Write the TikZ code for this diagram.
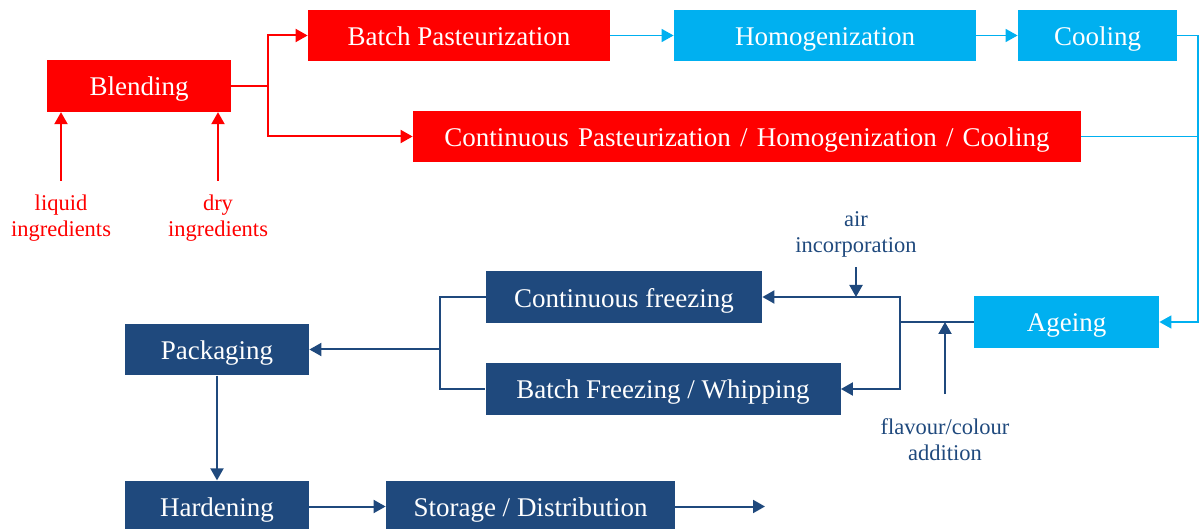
\documentclass[tikz,border=0pt]{standalone}
\usepackage{fontspec}
\setmainfont{Liberation Serif}
\newfontfamily\stagefont{Liberation Serif}
\usepackage{xcolor}
\usetikzlibrary{arrows.meta, positioning, calc}
\definecolor{mixred}{HTML}{FF0000}
\definecolor{heatblue}{HTML}{00B0F0}
\definecolor{freezeblue}{HTML}{1F497D}

\begin{document}
\begin{tikzpicture}[x=0.5pt, y=-0.5pt, >={Triangle[length=6pt, width=6.5pt]},
  stagebox/.style={inner sep=0pt, minimum height=25.75pt, text height=10pt, text depth=0pt, text=white, font=\stagefont\fontsize{13.5}{16}\selectfont},
  redbox/.style={stagebox, fill=mixred},
  cyanbox/.style={stagebox, fill=heatblue},
  bluebox/.style={stagebox, fill=freezeblue},
  inlabel/.style={inner sep=0pt, align=center, font=\stagefont\fontsize{11.25}{13}\selectfont},
  redline/.style={draw=mixred, line width=1pt},
  cyanline/.style={draw=heatblue, line width=0.8pt},
  blueline/.style={draw=freezeblue, line width=1pt}]
\useasboundingbox (0,0) rectangle (1200,529);

\node[redbox, minimum width=92pt] (blend) at (139,86) {Blending};
\node[redbox, minimum width=151pt] (batchpast) at (459,35.5) {Batch Pasteurization};
\node[redbox, minimum width=334pt] (contpast) at (747,136.5) {Continuous\hspace{0.34em}Pasteurization\hspace{0.34em}/\hspace{0.34em}Homogenization\hspace{0.34em}/\hspace{0.34em}Cooling};
\node[cyanbox, minimum width=151pt] (homog) at (825,35.5) {Homogenization};
\node[cyanbox, minimum width=79.5pt] (cool) at (1097.5,35.5) {Cooling};
\node[cyanbox, minimum width=92.5pt] (ageing) at (1066.5,322) {Ageing};
\node[bluebox, minimum width=138pt] (contfreeze) at (624,297) {Continuous freezing};
\node[bluebox, minimum width=177.5pt] (batchfreeze) at (663,389) {Batch Freezing / Whipping};
\node[bluebox, minimum width=92pt] (packaging) at (217,349.5) {Packaging};
\node[bluebox, minimum width=92pt] (hardening) at (217,506.5) {Hardening};
\node[bluebox, minimum width=144.5pt] (storage) at (530.5,506.5) {Storage / Distribution};

\node[inlabel, text=mixred] (liquid) at (61,218.5) {liquid\\ingredients};
\node[inlabel, text=mixred] (dry) at (218,218.5) {dry\\ingredients};
\node[inlabel, text=freezeblue] (air) at (856,234) {air\\incorporation};
\node[inlabel, text=freezeblue] (flavour) at (945,439.5) {flavour/colour\\addition};

\coordinate (split) at (268,86);
\coordinate (cjoin) at (1198,136.5);
\coordinate (fjoin) at (900,322);
\coordinate (pjoin) at (440,349.5);
\coordinate (out) at (765,506.5);

\draw[redline, ->] (blend.east) -- (split) |- (batchpast.west);
\draw[redline, ->] (split) |- (contpast.west);
\draw[redline, ->] ([yshift=7pt]liquid.north) -- (liquid.north |- blend.south);
\draw[redline, ->] ([yshift=7pt]dry.north) -- (dry.north |- blend.south);

\draw[cyanline, ->] (batchpast) -- (homog);
\draw[cyanline, ->] (homog) -- (cool);
\draw[cyanline, ->] (cool.east) -| (cjoin) |- (ageing.east);
\draw[cyanline] (contpast.east) -- (cjoin);

\draw[blueline, ->] (ageing.west) -- (fjoin) |- (contfreeze.east);
\draw[blueline, ->] (fjoin) |- (batchfreeze.east);
\draw[blueline, ->] ([yshift=-5pt]air.south) -- (air.south |- contfreeze.east);
\draw[blueline, ->] ([yshift=12pt]flavour.north) -- (flavour.north |- ageing.west);
\draw[blueline] (contfreeze.west) -| (pjoin) |- (batchfreeze.west);
\draw[blueline, ->] (pjoin) -- (packaging.east);
\draw[blueline, ->] (packaging) -- (hardening);
\draw[blueline, ->] (hardening) -- (storage);
\draw[blueline, ->] (storage) -- (out);
\end{tikzpicture}
\end{document}
